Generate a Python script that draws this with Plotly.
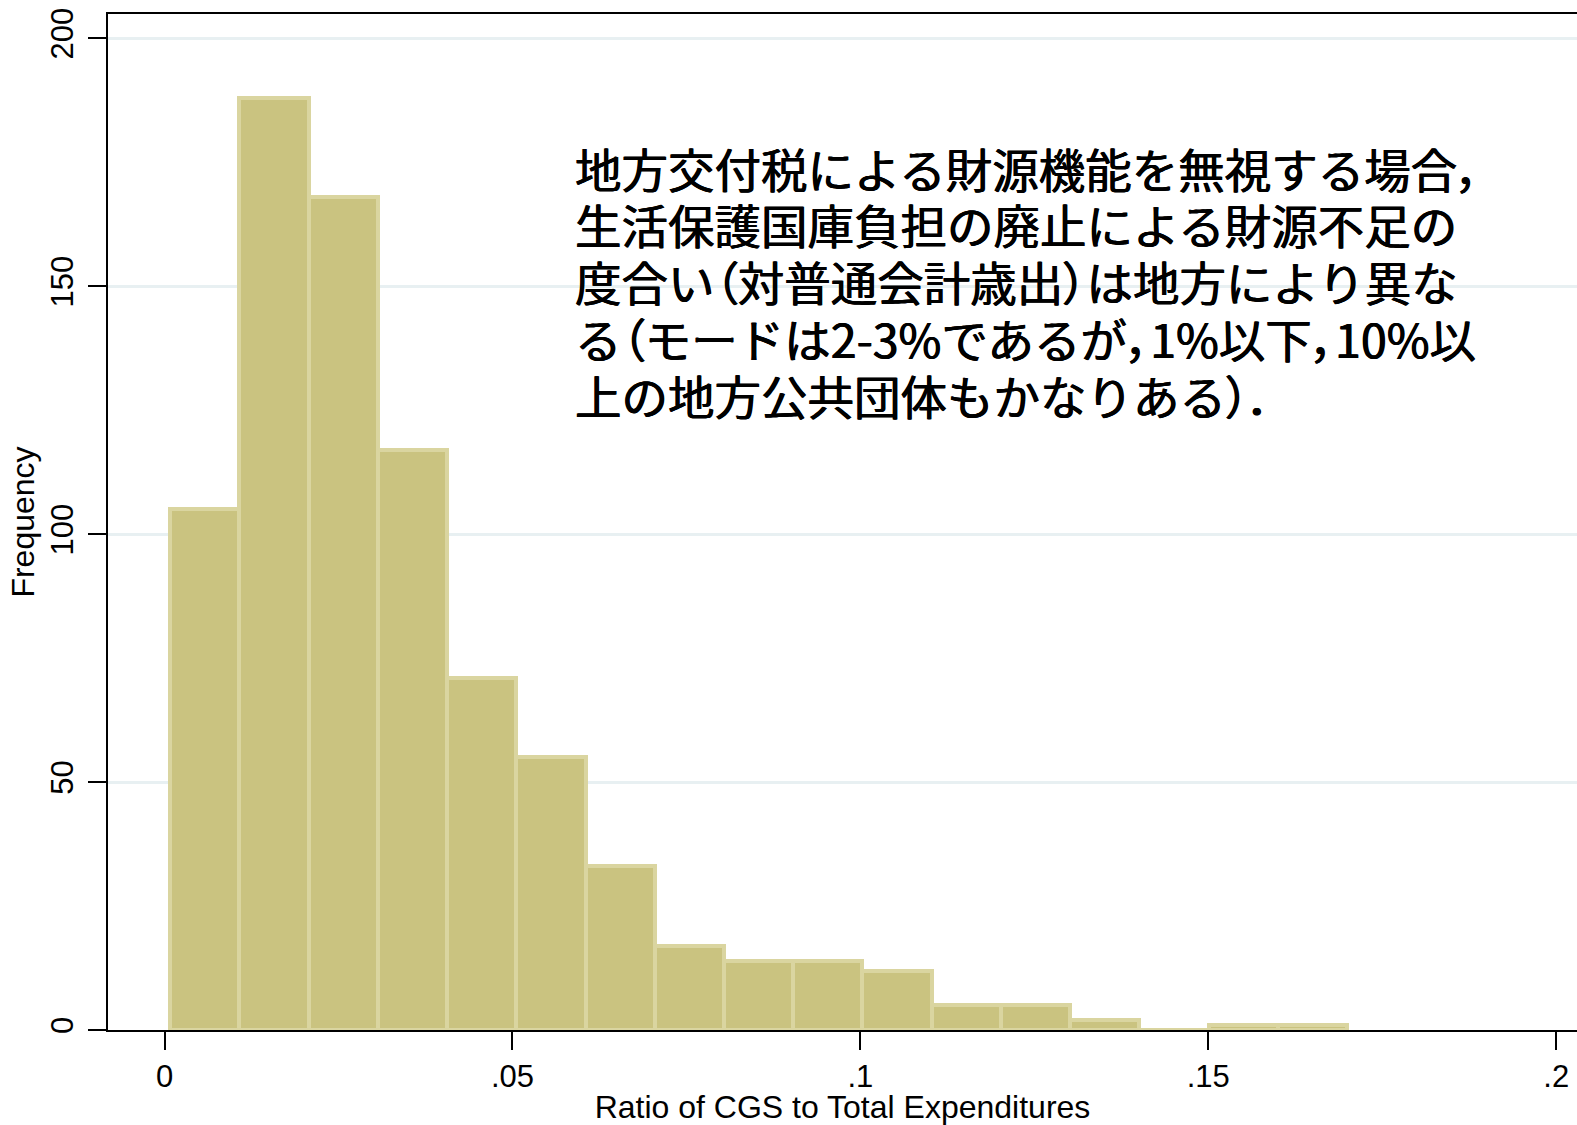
import plotly.graph_objects as go

# Histogram of the ratio of CGS to total expenditures (bins of ~0.01)
bin_start = 0.0008
bin_width = 0.00995
counts = [105, 188, 168, 117, 71, 55, 33, 17, 14, 14, 12, 5, 5, 2, 0, 1, 1]

x_tick_vals = [0, 0.05, 0.1, 0.15, 0.2]
x_tick_text = ["0", ".05", ".1", ".15", ".2"]
y_tick_vals = [0, 50, 100, 150, 200]
y_tick_text = ["0", "50", "100", "150", "200"]

x_title = "Ratio of CGS to Total Expenditures"
y_title = "Frequency"

note_lines = [
    "地方交付税による財源機能を無視する場合，",
    "生活保護国庫負担の廃止による財源不足の",
    "度合い（対普通会計歳出）は地方により異な",
    "る（モードは2-3%であるが，1%以下，10%以",
    "上の地方公共団体もかなりある）．",
]

centers = [bin_start + bin_width * (i + 0.5) for i in range(len(counts))]

fig = go.Figure()
fig.add_trace(
    go.Bar(
        x=centers,
        y=counts,
        width=[bin_width] * len(counts),
        marker=dict(
            color="rgb(202,195,128)",
            line=dict(color="rgb(218,213,160)", width=4),
        ),
        showlegend=False,
        hoverinfo="x+y",
    )
)


def proportional_punct(line):
    """Set full-width punctuation with proportional (palt) metrics."""
    out = []
    for ch in line:
        if ch in "（），．":
            out.append("<span style=\"font-feature-settings:'palt'\">" + ch + "</span>")
        else:
            out.append(ch)
    return "".join(out)


# Note block: one annotation per line so the line pitch can be set exactly
note_x = 0.0587
note_first_y = 174.0
note_step = 11.45
for i, line in enumerate(note_lines):
    fig.add_annotation(
        x=note_x,
        y=note_first_y - i * note_step,
        xref="x",
        yref="y",
        xanchor="left",
        yanchor="middle",
        align="left",
        showarrow=False,
        text=proportional_punct(line),
        font=dict(
            family="Noto Sans CJK JP",
            size=46.5,
            color="black",
            shadow="0.6px 0 0 black, -0.4px 0 0 black",
        ),
    )

axis_font = dict(family="Liberation Sans, Arial, sans-serif", size=31, color="black")
title_font = dict(family="Liberation Sans, Arial, sans-serif", size=32, color="black")

fig.update_layout(
    width=1577,
    height=1125,
    margin=dict(l=108, r=0, t=14, b=95),
    paper_bgcolor="white",
    plot_bgcolor="white",
    bargap=0,
    xaxis=dict(
        range=[-0.00813, 0.20299],
        tickmode="array",
        tickvals=x_tick_vals,
        ticktext=x_tick_text,
        ticks="outside",
        ticklen=18,
        tickwidth=2,
        tickcolor="black",
        tickfont=axis_font,
        showline=True,
        linecolor="black",
        linewidth=2,
        mirror=True,
        showgrid=False,
        zeroline=False,
        automargin=False,
        title=dict(text=x_title, font=title_font, standoff=10),
    ),
    yaxis=dict(
        range=[0, 204.9],
        tickmode="array",
        tickvals=y_tick_vals,
        ticktext=y_tick_text,
        tickangle=-90,
        ticks="outside",
        ticklen=18,
        tickwidth=2,
        tickcolor="black",
        tickfont=axis_font,
        ticklabelstandoff=3,
        showline=True,
        linecolor="black",
        linewidth=2,
        showgrid=True,
        gridcolor="rgb(232,240,242)",
        gridwidth=3,
        zeroline=False,
        automargin=False,
        title=dict(text=y_title, font=title_font, standoff=0),
    ),
)

fig.write_html("out.html")
